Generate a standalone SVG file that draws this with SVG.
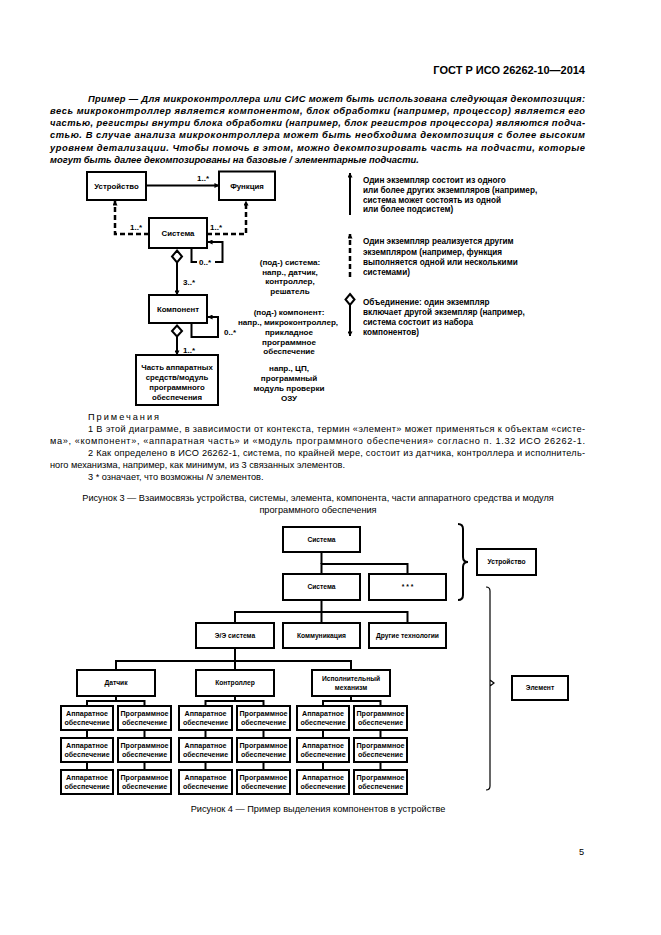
<svg xmlns="http://www.w3.org/2000/svg" width="661" height="935" viewBox="0 0 661 935">
<style>
text{font-family:"Liberation Sans",Arial,sans-serif;fill:#000}
.hdr{font-size:11px;font-weight:bold;text-anchor:end}
.par{font-size:9.4px;font-weight:bold;font-style:italic}
.note{font-size:9.2px}
.cap{font-size:9.2px;text-anchor:middle}
.b{fill:#fff;stroke:#000;stroke-width:2}
.l{fill:none;stroke:#000;stroke-width:2}
.d{fill:none;stroke:#000;stroke-width:2.5;stroke-dasharray:5,3}
.thin{fill:none;stroke:#000;stroke-width:1.2}
.lb{font-size:7.8px;font-weight:bold;text-anchor:middle}
.m{font-size:8px;font-weight:bold}
.side{font-size:8.1px;font-weight:bold;text-anchor:middle}
.leg{font-size:8.2px;font-weight:bold}
.f4{font-size:6.7px;font-weight:bold;text-anchor:middle}
.f4s{font-size:7.1px;font-weight:bold;text-anchor:middle}
.dia{fill:#fff;stroke:#000;stroke-width:2}
</style>
<defs>
<marker id="ar" viewBox="0 0 6 6" refX="5.5" refY="3" markerWidth="5" markerHeight="5" markerUnits="userSpaceOnUse" orient="auto">
<path d="M0,0 L6,3 L0,6 z" fill="#000"/>
</marker>
</defs>

<text class="hdr" x="585" y="74">ГОСТ Р ИСО 26262-10—2014</text>

<g id="paragraph">
<text class="par" x="88" y="101.5" textLength="497" lengthAdjust="spacing">Пример —  Для микроконтроллера или СИС может быть использована следующая декомпозиция:</text>
<text class="par" x="50" y="113.8" textLength="535" lengthAdjust="spacing">весь микроконтроллер является компонентом, блок обработки (например, процессор) является его</text>
<text class="par" x="50" y="126.1" textLength="535" lengthAdjust="spacing">частью, регистры внутри блока обработки (например, блок регистров процессора) являются подча-</text>
<text class="par" x="50" y="138.4" textLength="535" lengthAdjust="spacing">стью. В случае анализа микроконтроллера может быть необходима декомпозиция с более высоким</text>
<text class="par" x="50" y="150.7" textLength="535" lengthAdjust="spacing">уровнем детализации. Чтобы помочь в этом, можно декомпозировать часть на подчасти, которые</text>
<text class="par" x="50" y="163">могут быть далее декомпозированы на базовые / элементарные подчасти.</text>
</g>

<!-- Figure 3 -->
<g id="fig3-connectors">
<line class="l" x1="146" y1="185.5" x2="219" y2="185.5" stroke-width="1.6" marker-end="url(#ar)"/>
<polyline class="d" points="149,234 115,234 115,201" marker-end="url(#ar)"/>
<polyline class="d" points="207,234 246,234 246,201" marker-end="url(#ar)"/>
<polyline class="l" points="191.5,248 191.5,262 197,262"/>
<polyline class="l" points="215,262 222.5,262 222.5,242 208,242" marker-end="url(#ar)"/>
<polygon class="dia" points="177,250.5 182,256.5 177,262.5 172,256.5"/>
<line class="l" x1="177" y1="262.5" x2="177" y2="295" stroke-width="2.6" marker-end="url(#ar)"/>
<polyline class="l" points="191.5,323 191.5,337 218,337 218,317 208,317" marker-end="url(#ar)"/>
<polygon class="dia" points="177,325.5 182,331 177,336.5 172,331"/>
<line class="l" x1="177" y1="336.5" x2="177" y2="355" stroke-width="2.6" marker-end="url(#ar)"/>
</g>
<g id="fig3-labels">
<text class="m" x="197" y="181">1..*</text>
<text class="m" x="130" y="230">1..*</text>
<text class="m" x="210" y="230">1..*</text>
<text class="m" x="199" y="265">0..*</text>
<text class="m" x="183" y="285">3..*</text>
<text class="m" x="224" y="335">0..*</text>
<text class="m" x="183" y="353">1..*</text>
</g>
<g id="n-ustr"><rect class="b" x="87" y="172" width="59" height="28"/><text class="lb" x="116.5" y="188.8">Устройство</text></g>
<g id="n-func"><rect class="b" x="219" y="171.5" width="56" height="28.5"/><text class="lb" x="247" y="188.8">Функция</text></g>
<g id="n-sys"><rect class="b" x="149" y="218" width="58" height="30"/><text class="lb" x="178" y="235.8">Система</text></g>
<g id="n-komp"><rect class="b" x="149" y="295" width="58" height="28"/><text class="lb" x="178" y="311.8">Компонент</text></g>
<g id="n-part"><rect class="b" x="136" y="355" width="82" height="50"/>
<text class="lb" x="177" y="369.5">Часть аппаратных</text>
<text class="lb" x="177" y="379.5">средств/модуль</text>
<text class="lb" x="177" y="389.5">программного</text>
<text class="lb" x="177" y="399.5">обеспечения</text></g>

<g id="fig3-side">
<text class="side" x="290" y="265">(под-) система:</text>
<text class="side" x="290" y="274.5">напр., датчик,</text>
<text class="side" x="290" y="284">контроллер,</text>
<text class="side" x="290" y="293.5">решатель</text>
<text class="side" x="289" y="315">(под-) компонент:</text>
<text class="side" x="288" y="325">напр., микроконтроллер,</text>
<text class="side" x="289" y="335">прикладное</text>
<text class="side" x="289" y="344.5">программное</text>
<text class="side" x="289" y="354">обеспечение</text>
<text class="side" x="289" y="371">напр., ЦП,</text>
<text class="side" x="289" y="381">программный</text>
<text class="side" x="289" y="391">модуль проверки</text>
<text class="side" x="289" y="401">ОЗУ</text>
</g>

<g id="legend">
<line class="l" x1="350" y1="215" x2="350" y2="173" marker-end="url(#ar)"/>
<text class="leg" x="363" y="182.5">Один экземпляр состоит из одного</text>
<text class="leg" x="363" y="192.5">или более других экземпляров (например,</text>
<text class="leg" x="363" y="202.5">система может состоять из одной</text>
<text class="leg" x="363" y="212">или более подсистем)</text>
<line class="d" x1="350" y1="277" x2="350" y2="234" stroke-width="2.2" stroke-dasharray="4,3" marker-end="url(#ar)"/>
<text class="leg" x="363" y="244">Один экземпляр реализуется другим</text>
<text class="leg" x="363" y="254.5">экземпляром (например, функция</text>
<text class="leg" x="363" y="265">выполняется одной или несколькими</text>
<text class="leg" x="363" y="275">системами)</text>
<polygon class="dia" points="350,294 354.5,299.5 350,305 345.5,299.5"/>
<line class="l" x1="350" y1="305" x2="350" y2="336" marker-end="url(#ar)"/>
<text class="leg" x="363" y="305">Объединение: один экземпляр</text>
<text class="leg" x="363" y="315">включает другой экземпляр (например,</text>
<text class="leg" x="363" y="325">система состоит из набора</text>
<text class="leg" x="363" y="335">компонентов)</text>
</g>

<g id="notes">
<text class="note" x="88" y="420.3" letter-spacing="2">Примечания</text>
<text class="note" x="88" y="432.3" textLength="497" lengthAdjust="spacing">1 В этой диаграмме, в зависимости от контекста, термин «элемент» может применяться к объектам «систе-</text>
<text class="note" x="50" y="444.3" textLength="535" lengthAdjust="spacing">ма», «компонент», «аппаратная часть» и «модуль программного обеспечения» согласно п. 1.32 ИСО 26262-1.</text>
<text class="note" x="88" y="456.3" textLength="497" lengthAdjust="spacing">2 Как определено в ИСО 26262-1, система, по крайней мере, состоит из датчика, контроллера и исполнитель-</text>
<text class="note" x="50" y="468.3">ного механизма, например, как минимум, из 3 связанных элементов.</text>
<text class="note" x="88" y="479.5">3 * означает, что возможны <tspan font-style="italic">N</tspan> элементов.</text>
<text class="cap" x="318" y="500.5">Рисунок 3 — Взаимосвязь устройства, системы, элемента, компонента, части аппаратного средства и модуля</text>
<text class="cap" x="318" y="513.3">программного обеспечения</text>
</g>

<!-- Figure 4 -->
<g id="fig4-connectors">
<polyline class="l" points="321.5,552 321.5,564"/>
<polyline class="l" points="321.5,574 321.5,564 407.5,564 407.5,574"/>
<polyline class="l" points="321.5,600 321.5,612"/>
<polyline class="l" points="235,623 235,612 407.5,612 407.5,623"/>
<line class="l" x1="321.5" y1="612" x2="321.5" y2="623"/>
<polyline class="l" points="235,648 235,661"/>
<polyline class="l" points="116,670 116,661 351,661 351,670" stroke-width="2.4"/>
<line class="l" x1="235" y1="661" x2="235" y2="670"/>
<polyline class="l" points="116,696 116,701"/>
<polyline class="l" points="87,706 87,701 144.5,701 144.5,706"/>
<polyline class="l" points="235,696 235,701"/>
<polyline class="l" points="205.5,706 205.5,701 263.5,701 263.5,706"/>
<polyline class="l" points="351,696 351,701"/>
<polyline class="l" points="323,706 323,701 380.5,701 380.5,706"/>
<path class="l" d="M87,730V738M87,762V770M144.5,730V738M144.5,762V770M205.5,730V738M205.5,762V770M263.5,730V738M263.5,762V770M323,730V738M323,762V770M380.5,730V738M380.5,762V770"/>
<path class="l" stroke-width="1.8" d="M458,524 q5,0 5,5 v28 q0,5 5,5 q-5,0 -5,5 v28 q0,5 -5,5"/>
<path class="thin" d="M486,587 q4,0 4,4 V786 q0,4 -4,4 M490,680 l4,3 l-4,3"/>
</g>
<g id="f4-sys1"><rect class="b" x="283" y="527" width="77" height="25"/><text class="f4" x="321.5" y="541.8">Система</text></g>
<g id="f4-sys2"><rect class="b" x="283" y="574" width="77" height="26"/><text class="f4" x="321.5" y="589.3">Система</text></g>
<g id="f4-etc"><rect class="b" x="369" y="574" width="77" height="26"/><text class="f4" x="407.5" y="589.3">* * *</text></g>
<g id="f4-ustr"><rect class="b" x="477" y="549" width="59" height="26"/><text class="f4" x="506.5" y="564.3">Устройство</text></g>
<g id="f4-ee"><rect class="b" x="196" y="623" width="78" height="25"/><text class="f4" x="235" y="637.8">Э/Э система</text></g>
<g id="f4-comm"><rect class="b" x="283" y="623" width="77" height="25"/><text class="f4" x="321.5" y="637.8">Коммуникация</text></g>
<g id="f4-other"><rect class="b" x="369" y="623" width="77" height="25"/><text class="f4" x="407.5" y="637.8">Другие технологии</text></g>
<g id="f4-sens"><rect class="b" x="77" y="670" width="78" height="26"/><text class="f4" x="116" y="685.3">Датчик</text></g>
<g id="f4-ctrl"><rect class="b" x="196" y="670" width="78" height="26"/><text class="f4" x="235" y="685.3">Контроллер</text></g>
<g id="f4-act"><rect class="b" x="312" y="670" width="78" height="26"/><text class="f4" x="351" y="681">Исполнительный</text><text class="f4" x="351" y="689.5">механизм</text></g>
<g id="f4-elem"><rect class="b" x="512" y="676" width="56" height="24"/><text class="f4" x="540" y="690.3">Элемент</text></g>

<g id="f4-leaves">
<g id="hw-s1"><rect class="b" x="61" y="706" width="52" height="24"/><text class="f4s" x="87" y="716">Аппаратное</text><text class="f4s" x="87" y="724.7">обеспечение</text></g>
<g id="sw-s1"><rect class="b" x="118" y="706" width="53" height="24"/><text class="f4s" x="144.5" y="716">Программное</text><text class="f4s" x="144.5" y="724.7">обеспечение</text></g>
<g id="hw-s2"><rect class="b" x="61" y="738" width="52" height="24"/><text class="f4s" x="87" y="748">Аппаратное</text><text class="f4s" x="87" y="756.7">обеспечение</text></g>
<g id="sw-s2"><rect class="b" x="118" y="738" width="53" height="24"/><text class="f4s" x="144.5" y="748">Программное</text><text class="f4s" x="144.5" y="756.7">обеспечение</text></g>
<g id="hw-s3"><rect class="b" x="61" y="770" width="52" height="24"/><text class="f4s" x="87" y="780">Аппаратное</text><text class="f4s" x="87" y="788.7">обеспечение</text></g>
<g id="sw-s3"><rect class="b" x="118" y="770" width="53" height="24"/><text class="f4s" x="144.5" y="780">Программное</text><text class="f4s" x="144.5" y="788.7">обеспечение</text></g>
<g id="hw-c1"><rect class="b" x="179" y="706" width="53" height="24"/><text class="f4s" x="205.5" y="716">Аппаратное</text><text class="f4s" x="205.5" y="724.7">обеспечение</text></g>
<g id="sw-c1"><rect class="b" x="237" y="706" width="53" height="24"/><text class="f4s" x="263.5" y="716">Программное</text><text class="f4s" x="263.5" y="724.7">обеспечение</text></g>
<g id="hw-c2"><rect class="b" x="179" y="738" width="53" height="24"/><text class="f4s" x="205.5" y="748">Аппаратное</text><text class="f4s" x="205.5" y="756.7">обеспечение</text></g>
<g id="sw-c2"><rect class="b" x="237" y="738" width="53" height="24"/><text class="f4s" x="263.5" y="748">Программное</text><text class="f4s" x="263.5" y="756.7">обеспечение</text></g>
<g id="hw-c3"><rect class="b" x="179" y="770" width="53" height="24"/><text class="f4s" x="205.5" y="780">Аппаратное</text><text class="f4s" x="205.5" y="788.7">обеспечение</text></g>
<g id="sw-c3"><rect class="b" x="237" y="770" width="53" height="24"/><text class="f4s" x="263.5" y="780">Программное</text><text class="f4s" x="263.5" y="788.7">обеспечение</text></g>
<g id="hw-a1"><rect class="b" x="297" y="706" width="52" height="24"/><text class="f4s" x="323" y="716">Аппаратное</text><text class="f4s" x="323" y="724.7">обеспечение</text></g>
<g id="sw-a1"><rect class="b" x="354" y="706" width="53" height="24"/><text class="f4s" x="380.5" y="716">Программное</text><text class="f4s" x="380.5" y="724.7">обеспечение</text></g>
<g id="hw-a2"><rect class="b" x="297" y="738" width="52" height="24"/><text class="f4s" x="323" y="748">Аппаратное</text><text class="f4s" x="323" y="756.7">обеспечение</text></g>
<g id="sw-a2"><rect class="b" x="354" y="738" width="53" height="24"/><text class="f4s" x="380.5" y="748">Программное</text><text class="f4s" x="380.5" y="756.7">обеспечение</text></g>
<g id="hw-a3"><rect class="b" x="297" y="770" width="52" height="24"/><text class="f4s" x="323" y="780">Аппаратное</text><text class="f4s" x="323" y="788.7">обеспечение</text></g>
<g id="sw-a3"><rect class="b" x="354" y="770" width="53" height="24"/><text class="f4s" x="380.5" y="780">Программное</text><text class="f4s" x="380.5" y="788.7">обеспечение</text></g>
</g>

<text class="cap" x="318" y="812">Рисунок 4 — Пример выделения компонентов в устройстве</text>
<text class="note" x="584" y="854.5" text-anchor="end">5</text>
</svg>
